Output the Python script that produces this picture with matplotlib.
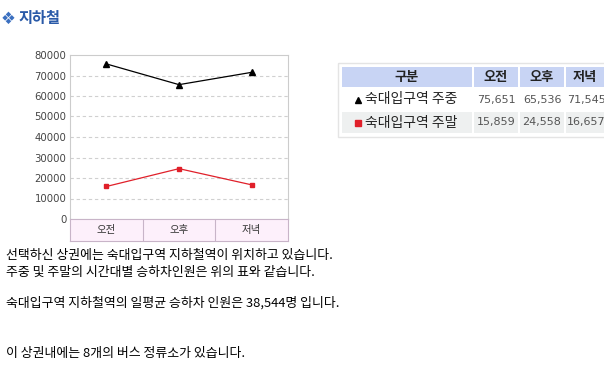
import matplotlib.pyplot as plt
from matplotlib.patches import Rectangle
from matplotlib.lines import Line2D

plt.rcParams['font.family'] = ['Noto Sans CJK KR', 'DejaVu Sans']

# 데이터
times = ['오전', '오후', '저녁']
weekday = [75651, 65536, 71545]
weekend = [15859, 24558, 16657]
series_names = ['숙대입구역 주중', '숙대입구역 주말']
y_ticks = [0, 10000, 20000, 30000, 40000, 50000, 60000, 70000, 80000]
body_lines = [
    '선택하신 상권에는 숙대입구역 지하철역이 위치하고 있습니다.',
    '주중 및 주말의 시간대별 승하차인원은 위의 표와 같습니다.',
    '숙대입구역 지하철역의 일평균 승하차 인원은 38,544명 입니다.',
    '이 상권내에는 8개의 버스 정류소가 있습니다.',
]

W, H = 604, 368
fig = plt.figure(figsize=(W / 100, H / 100), dpi=100)


def px_axes(x0, y0, x1, y1):
    return fig.add_axes([x0 / W, 1 - y1 / H, (x1 - x0) / W, (y1 - y0) / H])


# 배경 레이어 (픽셀 좌표)
bg = fig.add_axes([0, 0, 1, 1])
bg.set_xlim(0, W)
bg.set_ylim(H, 0)
bg.axis('off')

# 제목
bg.text(1, 19, '❖', color='#3a6fc0', fontsize=12, va='center', ha='left',
        family='DejaVu Sans')
bg.text(19, 18, '지하철', color='#2a5aa8', fontsize=11, fontweight='bold',
        va='center', ha='left')

# 선 그래프
ax = px_axes(70, 55, 288, 219)
x = range(len(times))
ax.plot(x, weekday, color='black', lw=0.9, marker='^', ms=4.5)
ax.plot(x, weekend, color='#e0202a', lw=0.9, marker='s', ms=3.5)
ax.set_xlim(-0.5, 2.5)
ax.set_ylim(0, 80000)
ax.set_yticks(y_ticks)
ax.set_yticklabels([str(v) for v in y_ticks], fontsize=7.3, color='#444444',
                   family='DejaVu Sans')
ax.tick_params(axis='y', length=0, pad=2.5)
ax.set_xticks([])
for v in y_ticks[1:-1]:
    ax.axhline(v, color='#d0d0d0', lw=0.8, ls=(0, (3, 2.5)), zorder=0)
for s in ax.spines.values():
    s.set_color('#cccccc')
    s.set_linewidth(0.8)

# 범주 띠
cat = px_axes(70, 219, 288, 241)
cat.set_facecolor('#fdf0fb')
cat.set_xlim(0, 3)
cat.set_ylim(0, 1)
cat.set_xticks([])
cat.set_yticks([])
for s in cat.spines.values():
    s.set_color('#c8b4c8')
    s.set_linewidth(0.8)
for i, t in enumerate(times):
    cat.text(i + 0.5, 0.5, t, ha='center', va='center', fontsize=7.5, color='#333333')
    if i > 0:
        cat.axvline(i, color='#c8b4c8', lw=0.8)

# 표
col_x = [341, 473, 519, 565, 611]
row_y = [66, 88, 111, 134]
bg.add_patch(Rectangle((338, 63), 270, 74, facecolor='none', edgecolor='#e4e4e4', lw=1))
row_bg = ['#c8d4f4', 'white', '#eef0f0']
for r in range(3):
    for c in range(4):
        bg.add_patch(Rectangle((col_x[c] + 1, row_y[r] + 1),
                               col_x[c + 1] - col_x[c] - 2, row_y[r + 1] - row_y[r] - 2,
                               facecolor=row_bg[r], edgecolor='none'))

header = ['구분'] + times
for c, h in enumerate(header):
    bg.text((col_x[c] + col_x[c + 1]) / 2 if c < 3 else 585, (row_y[0] + row_y[1]) / 2,
            h, ha='center', va='center', fontsize=9.5, fontweight='bold', color='#222222')

rows = [weekday, weekend]
marks = [('^', 'black'), ('s', '#e0202a')]
for r, (name, vals) in enumerate(zip(series_names, rows)):
    yc = (row_y[r + 1] + row_y[r + 2]) / 2
    bg.add_line(Line2D([358], [yc], marker=marks[r][0], color=marks[r][1], ms=4, ls='none'))
    bg.text(365, yc, name, ha='left', va='center', fontsize=10, color='#222222',
            fontweight='medium')
    for c, v in enumerate(vals):
        xc = (col_x[c + 1] + col_x[c + 2]) / 2 if c < 2 else 586
        bg.text(xc, yc, f'{v:,}', ha='center', va='center', fontsize=8, color='#555555',
                family='DejaVu Sans')

# 본문
for t, yy in zip(body_lines, [255, 272, 303, 353]):
    bg.text(6, yy, t, ha='left', va='center', fontsize=9.3, color='black')

fig.savefig('out.png', dpi=100)
